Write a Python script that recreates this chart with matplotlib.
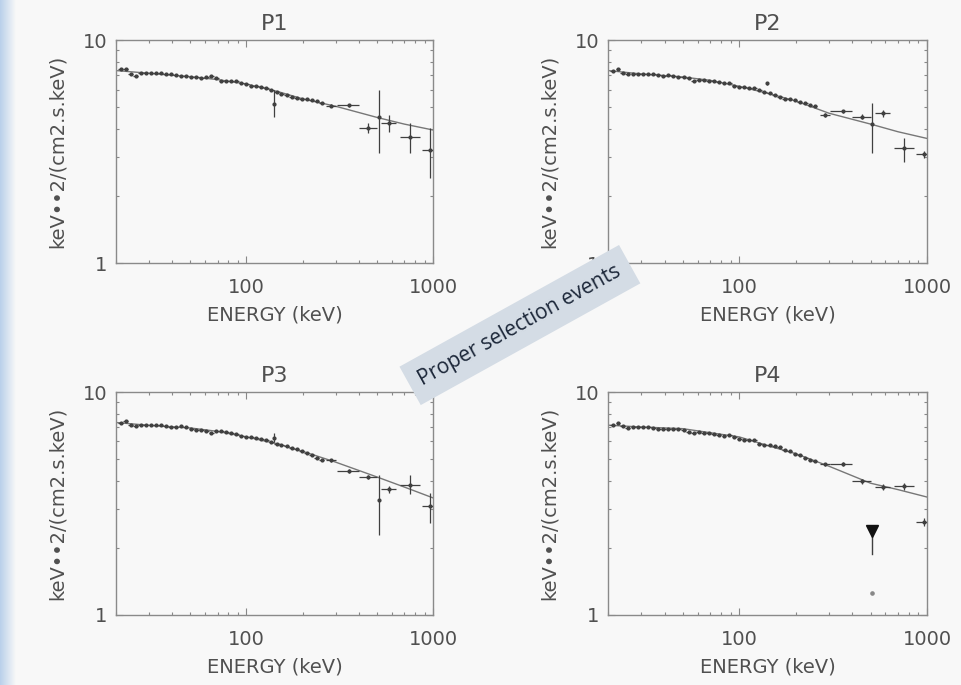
import numpy as np
import matplotlib.pyplot as plt
from matplotlib.ticker import LogLocator, NullFormatter

# canaux basse energie (keV), communs aux 4 panneaux
e_low = [21.2, 22.6, 24.0, 25.5, 27.2, 28.9, 30.8, 32.7, 34.8, 37.0,
         39.4, 41.9, 44.6, 47.4, 50.5, 53.7, 57.1, 60.8, 64.7, 68.8,
         73.2, 77.9, 82.9, 88.2, 93.8, 99.8, 106, 113, 120, 128,
         136, 145, 154, 164, 175, 186, 198, 210, 224, 238, 253]

p1_low = [7.39, 7.39, 7.04, 6.92, 7.14, 7.14, 7.12, 7.09, 7.09, 7.04,
          7.02, 6.97, 6.92, 6.90, 6.85, 6.85, 6.73, 6.83, 6.92, 6.73,
          6.57, 6.57, 6.57, 6.57, 6.44, 6.35, 6.24, 6.24, 6.18, 6.07,
          5.97, 5.86, 5.72, 5.67, 5.58, 5.49, 5.44, 5.44, 5.40, 5.33, 5.24]
p2_low = [7.26, 7.39, 7.14, 7.02, 7.02, 7.02, 7.02, 7.02, 7.02, 6.97,
          6.92, 6.97, 6.90, 6.85, 6.80, 6.73, 6.57, 6.62, 6.62, 6.57,
          6.55, 6.51, 6.44, 6.40, 6.24, 6.13, 6.18, 6.07, 6.07, 5.97,
          5.86, 5.77, 5.67, 5.58, 5.42, 5.42, 5.38, 5.29, 5.20, 5.14, 5.08]
p3_low = [7.26, 7.39, 7.14, 7.02, 7.09, 7.09, 7.09, 7.14, 7.09, 7.04,
          6.97, 6.97, 7.02, 6.97, 6.85, 6.78, 6.73, 6.66, 6.57, 6.66,
          6.66, 6.62, 6.57, 6.51, 6.35, 6.29, 6.29, 6.22, 6.18, 6.07,
          5.97, 5.86, 5.80, 5.71, 5.63, 5.53, 5.42, 5.33, 5.20, 5.08, 4.97]
p4_low = [7.09, 7.26, 7.02, 6.90, 6.97, 6.97, 6.97, 6.97, 6.92, 6.85,
          6.85, 6.85, 6.85, 6.85, 6.73, 6.62, 6.57, 6.62, 6.57, 6.57,
          6.51, 6.40, 6.35, 6.40, 6.29, 6.18, 6.11, 6.07, 6.11, 5.86,
          5.80, 5.77, 5.71, 5.67, 5.51, 5.42, 5.29, 5.20, 5.06, 4.97, 4.90]

# canaux haute energie (larges)
e_high = [285, 355, 450, 511, 580, 750, 965]
e_high_lo = [268, 305, 400, 506, 528, 665, 870]
e_high_hi = [303, 400, 500, 516, 635, 850, 1000]

p1_high = [5.08, 5.11, 4.05, 4.53, 4.23, 3.69, 3.21]
p1_up = [0.08, 0.08, 0.18, 1.44, 0.38, 0.54, 0.81]
p1_dn = [0.08, 0.08, 0.23, 1.43, 0.35, 0.59, 0.81]

p2_high = [4.61, 4.80, 4.53, 4.19, 4.69, 3.27, 3.07]
p2_up = [0.08, 0.08, 0.12, 1.01, 0.15, 0.35, 0.10]
p2_dn = [0.08, 0.08, 0.12, 1.09, 0.15, 0.42, 0.10]

p3_high = [4.94, 4.42, 4.17, 3.28, 3.66, 3.83, 3.09]
p3_up = [0.08, 0.08, 0.08, 0.96, 0.12, 0.40, 0.42]
p3_dn = [0.08, 0.08, 0.08, 1.00, 0.12, 0.33, 0.50]

p4_high = [4.74, 4.76, 3.98, np.nan, 3.75, 3.77, 2.61]
p4_up = [0.08, 0.08, 0.10, 0.0, 0.10, 0.12, 0.10]
p4_dn = [0.08, 0.08, 0.10, 0.0, 0.10, 0.12, 0.10]

# raie a ~140 keV
out_e = 140
outliers = [(5.16, 0.81, 0.63), (6.39, 0.10, 0.10), (6.25, 0.30, 0.30), None]

# limite superieure P4 a 511 keV
p4_ul = 2.38
p4_ul_end = 1.88
p4_dot = 1.25

# modele ajuste
m_e = [20, 30, 50, 70, 100, 150, 200, 300, 500, 700, 1000]
m1 = [7.3, 7.1, 6.85, 6.65, 6.35, 5.85, 5.45, 5.05, 4.5, 4.2, 3.95]
m2 = [7.3, 7.05, 6.83, 6.6, 6.2, 5.7, 5.33, 4.7, 4.2, 3.88, 3.62]
m3 = [7.3, 7.09, 6.9, 6.66, 6.29, 5.83, 5.42, 4.85, 4.16, 3.75, 3.35]
m4 = [7.1, 6.97, 6.85, 6.57, 6.29, 5.67, 5.29, 4.65, 3.9, 3.65, 3.38]

titles = ['P1', 'P2', 'P3', 'P4']
lows = [p1_low, p2_low, p3_low, p4_low]
highs = [(p1_high, p1_up, p1_dn), (p2_high, p2_up, p2_dn),
         (p3_high, p3_up, p3_dn), (p4_high, p4_up, p4_dn)]
models = [m1, m2, m3, m4]

bg = '#f8f8f8'
txt = '#505050'
pts = '#404040'

fig = plt.figure(figsize=(9.61, 6.85), dpi=100, facecolor=bg)

# bande bleue a gauche
side = fig.add_axes([0, 0, 0.016, 1])
grad = np.linspace(0, 1, 50).reshape(1, -1)
side.imshow(grad, aspect='auto', cmap=plt.matplotlib.colors.LinearSegmentedColormap.from_list(
    'edge', ['#b9d0ea', bg]), extent=[0, 1, 0, 1])
side.axis('off')

positions = [[0.1207, 0.616, 0.330, 0.3255], [0.6327, 0.616, 0.332, 0.3255],
             [0.1207, 0.1022, 0.330, 0.3255], [0.6327, 0.1022, 0.332, 0.3255]]

e_arr = np.array(e_low)
for k in range(4):
    ax = fig.add_axes(positions[k])
    ax.set_facecolor(bg)
    ax.set_xscale('log')
    ax.set_yscale('log')

    ax.plot(m_e, models[k], color='#777777', lw=1.0, zorder=2)

    ax.errorbar(e_arr, lows[k], xerr=[e_arr - e_arr / 1.031, e_arr * 1.031 - e_arr],
                fmt='o', ms=2.0, color=pts, elinewidth=0.9, capsize=0, zorder=3)

    hv, hu, hd = highs[k]
    eh = np.array(e_high)
    ax.errorbar(eh, hv, xerr=[eh - np.array(e_high_lo), np.array(e_high_hi) - eh],
                yerr=[hd, hu], fmt='o', ms=2.0, color=pts, elinewidth=0.9,
                capsize=0, zorder=3)

    if outliers[k] is not None:
        v, u, d = outliers[k]
        ax.errorbar([out_e], [v], yerr=[[d], [u]], fmt='o', ms=2.0, color=pts,
                    elinewidth=0.9, capsize=0, zorder=3)

    if k == 3:
        ax.plot([511, 511], [p4_ul, p4_ul_end], color=pts, lw=1.0)
        ax.plot([511], [p4_ul], marker='v', ms=9, color='#111111', ls='none')
        ax.plot([511], [p4_dot], marker='o', ms=2.3, color='#888888', ls='none')

    ax.set_xlim(20, 1000)
    ax.set_ylim(1, 10)
    ax.set_xticks([100, 1000])
    ax.set_xticklabels(['100', '1000'])
    ax.set_yticks([1, 10])
    ax.set_yticklabels(['1', '10'])
    ax.xaxis.set_minor_locator(LogLocator(base=10, subs=range(2, 10)))
    ax.yaxis.set_minor_locator(LogLocator(base=10, subs=range(2, 10)))
    ax.xaxis.set_minor_formatter(NullFormatter())
    ax.yaxis.set_minor_formatter(NullFormatter())
    ax.tick_params(which='both', direction='in', top=True, right=True,
                   colors='#888888', labelcolor=txt, labelsize=14)
    ax.tick_params(which='major', length=5, width=0.8)
    ax.tick_params(which='minor', length=2.5, width=0.8)
    ax.tick_params(axis='x', pad=11)
    ax.tick_params(axis='y', pad=6)
    for s in ax.spines.values():
        s.set_color('#8a8a8a')
        s.set_linewidth(1.0)

    ax.set_title(titles[k], fontsize=16, color=txt, pad=7)
    ax.set_xlabel('ENERGY (keV)', fontsize=14, color=txt, labelpad=6)
    ax.set_ylabel('keV••2/(cm2.s.keV)', fontsize=14, color=txt, labelpad=12)

fig.text(0.541, 0.5255, 'Proper selection events', rotation=29,
         ha='center', va='center', fontsize=15, color='#1b2638',
         family='Open Sans',
         bbox=dict(boxstyle='square,pad=0.55', facecolor='#d4dce5',
                   edgecolor='none'))

plt.savefig('out.png', dpi=100, facecolor=bg)
